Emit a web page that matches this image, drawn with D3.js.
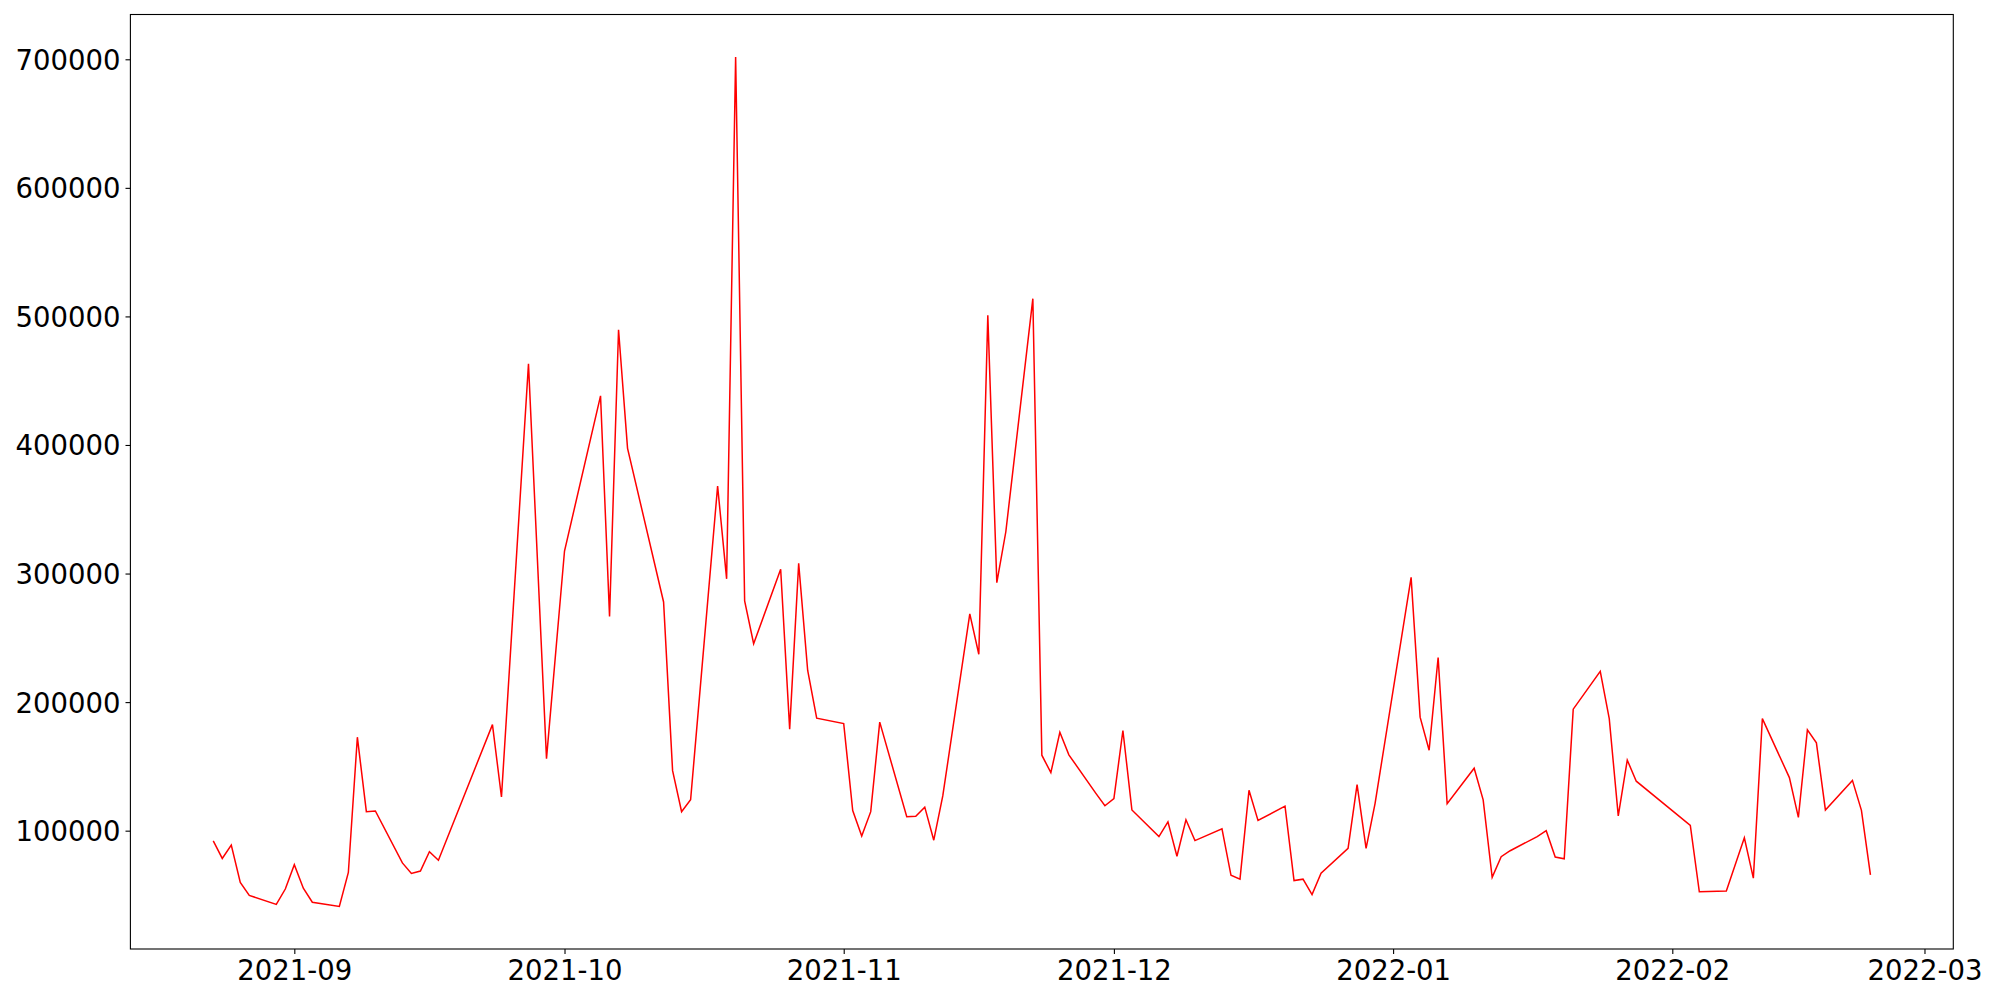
<!DOCTYPE html>
<html>
<head>
<meta charset="utf-8">
<script src="https://cdn.jsdelivr.net/npm/d3@7"></script>
<style>
  body { margin: 0; background: #fff; }
  svg { display: block; }
  .tick text { font-family: "DejaVu Sans", sans-serif; font-size: 27.5px; fill: #000; }
</style>
</head>
<body>
<svg width="2000" height="1000"></svg>
<script>
// daily values, gaps are missing days in the source
var dates = [
  "2021-08-23","2021-08-24","2021-08-25","2021-08-26","2021-08-27","2021-08-30","2021-08-31",
  "2021-09-01","2021-09-02","2021-09-03","2021-09-06","2021-09-07","2021-09-08","2021-09-09","2021-09-10",
  "2021-09-13","2021-09-14","2021-09-15","2021-09-16","2021-09-17","2021-09-23","2021-09-24",
  "2021-09-27","2021-09-29","2021-10-01","2021-10-05","2021-10-06","2021-10-07","2021-10-08",
  "2021-10-12","2021-10-13","2021-10-14","2021-10-15","2021-10-18","2021-10-19","2021-10-20",
  "2021-10-21","2021-10-22","2021-10-25","2021-10-26","2021-10-27","2021-10-28","2021-10-29",
  "2021-11-01","2021-11-02","2021-11-03","2021-11-04","2021-11-05","2021-11-08","2021-11-09",
  "2021-11-10","2021-11-11","2021-11-12","2021-11-15","2021-11-16","2021-11-17","2021-11-18",
  "2021-11-19","2021-11-22","2021-11-23","2021-11-24","2021-11-25","2021-11-26","2021-11-29",
  "2021-11-30","2021-12-01","2021-12-02","2021-12-03","2021-12-06","2021-12-07","2021-12-08",
  "2021-12-09","2021-12-10","2021-12-13","2021-12-14","2021-12-15","2021-12-16","2021-12-17",
  "2021-12-20","2021-12-21","2021-12-22","2021-12-23","2021-12-24","2021-12-27","2021-12-28",
  "2021-12-29","2021-12-30","2022-01-03","2022-01-04","2022-01-05","2022-01-06","2022-01-07",
  "2022-01-10","2022-01-11","2022-01-12","2022-01-13","2022-01-14","2022-01-17","2022-01-18",
  "2022-01-19","2022-01-20","2022-01-21","2022-01-24","2022-01-25","2022-01-26","2022-01-27",
  "2022-01-28","2022-02-03","2022-02-04","2022-02-07","2022-02-09","2022-02-10","2022-02-11",
  "2022-02-14","2022-02-15","2022-02-16","2022-02-17","2022-02-18","2022-02-21","2022-02-22",
  "2022-02-23"
];

var values = [
  92100, 78400, 88800, 59800, 49700, 42600, 54600,
  73500, 55200, 44300, 41000, 67500, 172700, 114800, 115300,
  74900, 66700, 68600, 83600, 77000, 182500, 126200,
  463100, 156000, 317500, 438200, 266700, 489600, 397400,
  277900, 146700, 114800, 124000, 368000, 295900, 701800,
  278700, 245400, 303300, 179000, 307900, 224600, 187500,
  183300, 115600, 95900, 114800, 184400, 110900, 111200,
  118300, 92600, 127000, 268600, 237200, 500800, 292900,
  332500, 513800, 158700, 145100, 176500, 159000, 129000,
  119400, 124900, 177900, 116100, 95400, 106800, 80100,
  108500, 92300, 101400, 65300, 62300, 131400, 107900,
  119100, 61200, 62300, 50300, 66900, 86300, 135800,
  86300, 121300, 297000, 188300, 162600, 234700, 121000,
  148600, 124000, 63700, 79800, 84400, 95400, 100000,
  79500, 78100, 194500, 224000, 187200, 111500, 154900,
  138500, 104100, 52500, 53000, 94500, 63100, 187200,
  141300, 110400, 178400, 168300, 116100, 139100, 115800,
  65600
];

var yTicks = [100000, 200000, 300000, 400000, 500000, 600000, 700000];

var svg = d3.select("svg"),
    margin = {top: 14.5, right: 46.7, bottom: 51, left: 130.4},
    width = +svg.attr("width") - margin.left - margin.right,
    height = +svg.attr("height") - margin.top - margin.bottom;

var parse = d3.utcParse("%Y-%m-%d");
var data = dates.map(function(d, i) { return {date: parse(d), value: values[i]}; });

// matplotlib style 5% padding on both axes
var xExt = d3.extent(data, function(d) { return d.date; });
var xPad = (xExt[1] - xExt[0]) * 0.05;
var yExt = d3.extent(data, function(d) { return d.value; });
var yPad = (yExt[1] - yExt[0]) * 0.05;

var x = d3.scaleUtc()
    .domain([new Date(+xExt[0] - xPad), new Date(+xExt[1] + xPad)])
    .range([0, width]);

var y = d3.scaleLinear()
    .domain([yExt[0] - yPad, yExt[1] + yPad])
    .range([height, 0]);

var g = svg.append("g")
    .attr("transform", "translate(" + margin.left + "," + margin.top + ")");

var line = d3.line()
    .x(function(d) { return x(d.date); })
    .y(function(d) { return y(d.value); });

g.append("path")
    .datum(data)
    .attr("fill", "none")
    .attr("stroke", "#ff0000")
    .attr("stroke-width", 1.5)
    .attr("stroke-linejoin", "miter")
    .attr("d", line);

var xAxis = g.append("g")
    .attr("transform", "translate(0," + height + ")")
    .call(d3.axisBottom(x)
        .ticks(d3.utcMonth.every(1))
        .tickFormat(d3.utcFormat("%Y-%m"))
        .tickSize(4.9)
        .tickPadding(7));
xAxis.select(".domain").remove();
xAxis.selectAll(".tick line").attr("stroke", "#000").attr("stroke-width", 1.1);

var yAxis = g.append("g")
    .call(d3.axisLeft(y)
        .tickValues(yTicks)
        .tickFormat(d3.format("d"))
        .tickSize(4.9)
        .tickPadding(4.9));
yAxis.select(".domain").remove();
yAxis.selectAll(".tick line").attr("stroke", "#000").attr("stroke-width", 1.1);
yAxis.selectAll(".tick text").attr("dy", "0.36em");

// frame
g.append("rect")
    .attr("width", width)
    .attr("height", height)
    .attr("fill", "none")
    .attr("stroke", "#000")
    .attr("stroke-width", 1.1);
</script>
</body>
</html>
